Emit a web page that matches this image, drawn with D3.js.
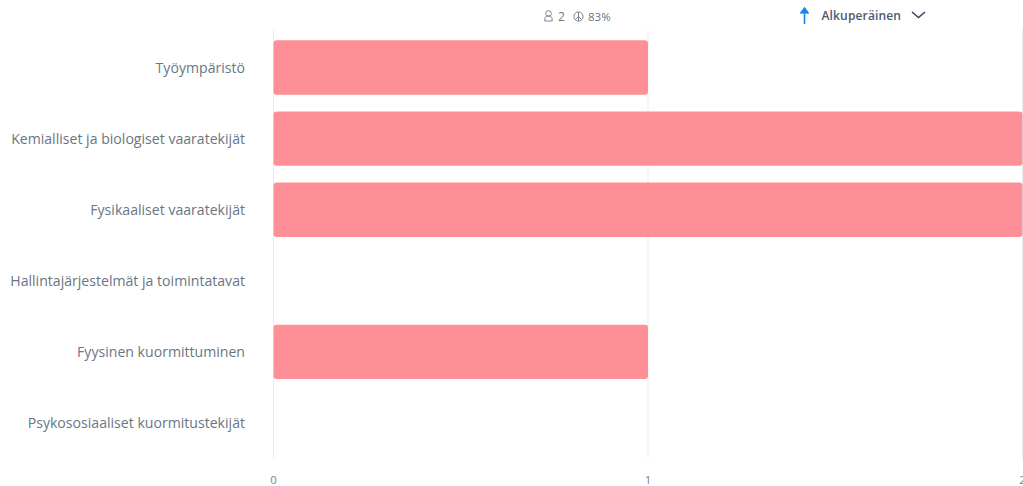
<!DOCTYPE html>
<html><head><meta charset="utf-8">
<script src="https://cdn.jsdelivr.net/npm/d3@7"></script>
<style>html,body{margin:0;padding:0;background:#fff;overflow:hidden}text{font-family:"Open Sans",sans-serif}</style>
</head><body><svg id="c" width="1023" height="486"></svg>
<script>
const categories=["Työympäristö","Kemialliset ja biologiset vaaratekijät","Fysikaaliset vaaratekijät","Hallintajärjestelmät ja toimintatavat","Fyysinen kuormittuminen","Psykososiaaliset kuormitustekijät"];
const values=[1,2,2,0,1,0];
const xTicks=[0,1,2];
const respondents="2";
const rate="83%";
const sortLabel="Alkuperäinen";

const svg=d3.select("#c");
const x=d3.scaleLinear().domain([0,2]).range([273.5,1022.5]);
const y=d3.scaleBand().domain(categories).range([32,458.5]).paddingInner(0.2353).paddingOuter(0.1176);
const rows=d3.zip(categories,values).filter(r=>r[1]>0);

svg.append("g").selectAll("line").data(xTicks).join("line")
 .attr("x1",d=>x(d)).attr("x2",d=>x(d)).attr("y1",30).attr("y2",458)
 .attr("stroke","#e9ebee").attr("stroke-width",1);

svg.append("g").selectAll("rect").data(rows).join("rect")
 .attr("x",x(0)).attr("y",r=>y(r[0]))
 .attr("width",r=>x(r[1])-x(0)).attr("height",y.bandwidth())
 .attr("rx",3).attr("fill","#ff8f96");

svg.append("g").selectAll("text").data(categories).join("text")
 .attr("x",245).attr("y",d=>y(d)+y.bandwidth()/2+0.3).attr("dy","0.35em")
 .attr("text-anchor","end").attr("font-size",14.1).attr("fill","#697683").text(d=>d);

svg.append("g").selectAll("text").data(xTicks).join("text")
 .attr("x",d=>x(d)).attr("y",479.5).attr("dy","0.35em").attr("text-anchor","middle")
 .attr("font-size",11.5).attr("fill","#7a8590").text(d=>d);

// header
const hdr=svg.append("g");
const person=hdr.append("g").attr("fill","none").attr("stroke","#6b7784").attr("stroke-width",0.9);
person.append("circle").attr("cx",548.5).attr("cy",13.5).attr("r",2.8);
person.append("path").attr("d","M544.8 21 q-.6-3.8 2-5 h3.4 q2.6 1.2 2 5 z");
hdr.append("text").attr("x",558).attr("y",16.5).attr("dy","0.35em").attr("font-size",12).attr("fill","#6b7784").text(respondents);
const peace=hdr.append("g").attr("fill","none").attr("stroke","#6b7784").attr("stroke-width",0.9);
peace.append("circle").attr("cx",578.5).attr("cy",16.5).attr("r",4.6);
peace.append("path").attr("d","M578.5 12v9M578.5 16.5l-3.2 3.2M578.5 16.5l3.2 3.2");
hdr.append("text").attr("x",588).attr("y",16.5).attr("dy","0.35em").attr("font-size",11.5).attr("fill","#6b7784").text(rate);
hdr.append("path").attr("d","M804.5 24V9M800.5 13.5l4-5.5 4 5.5").attr("fill","#1a86e8").attr("stroke","#1a86e8").attr("stroke-width",1.6);
hdr.append("text").attr("x",821.5).attr("y",16).attr("dy","0.35em").attr("font-size",12).attr("font-weight",600).attr("letter-spacing",0.15).attr("fill","#4a5a70").text(sortLabel);
hdr.append("path").attr("d","M912 12l6.5 5.5 6.5-5.5").attr("fill","none").attr("stroke","#33435a").attr("stroke-width",1.5);
</script></body></html>
